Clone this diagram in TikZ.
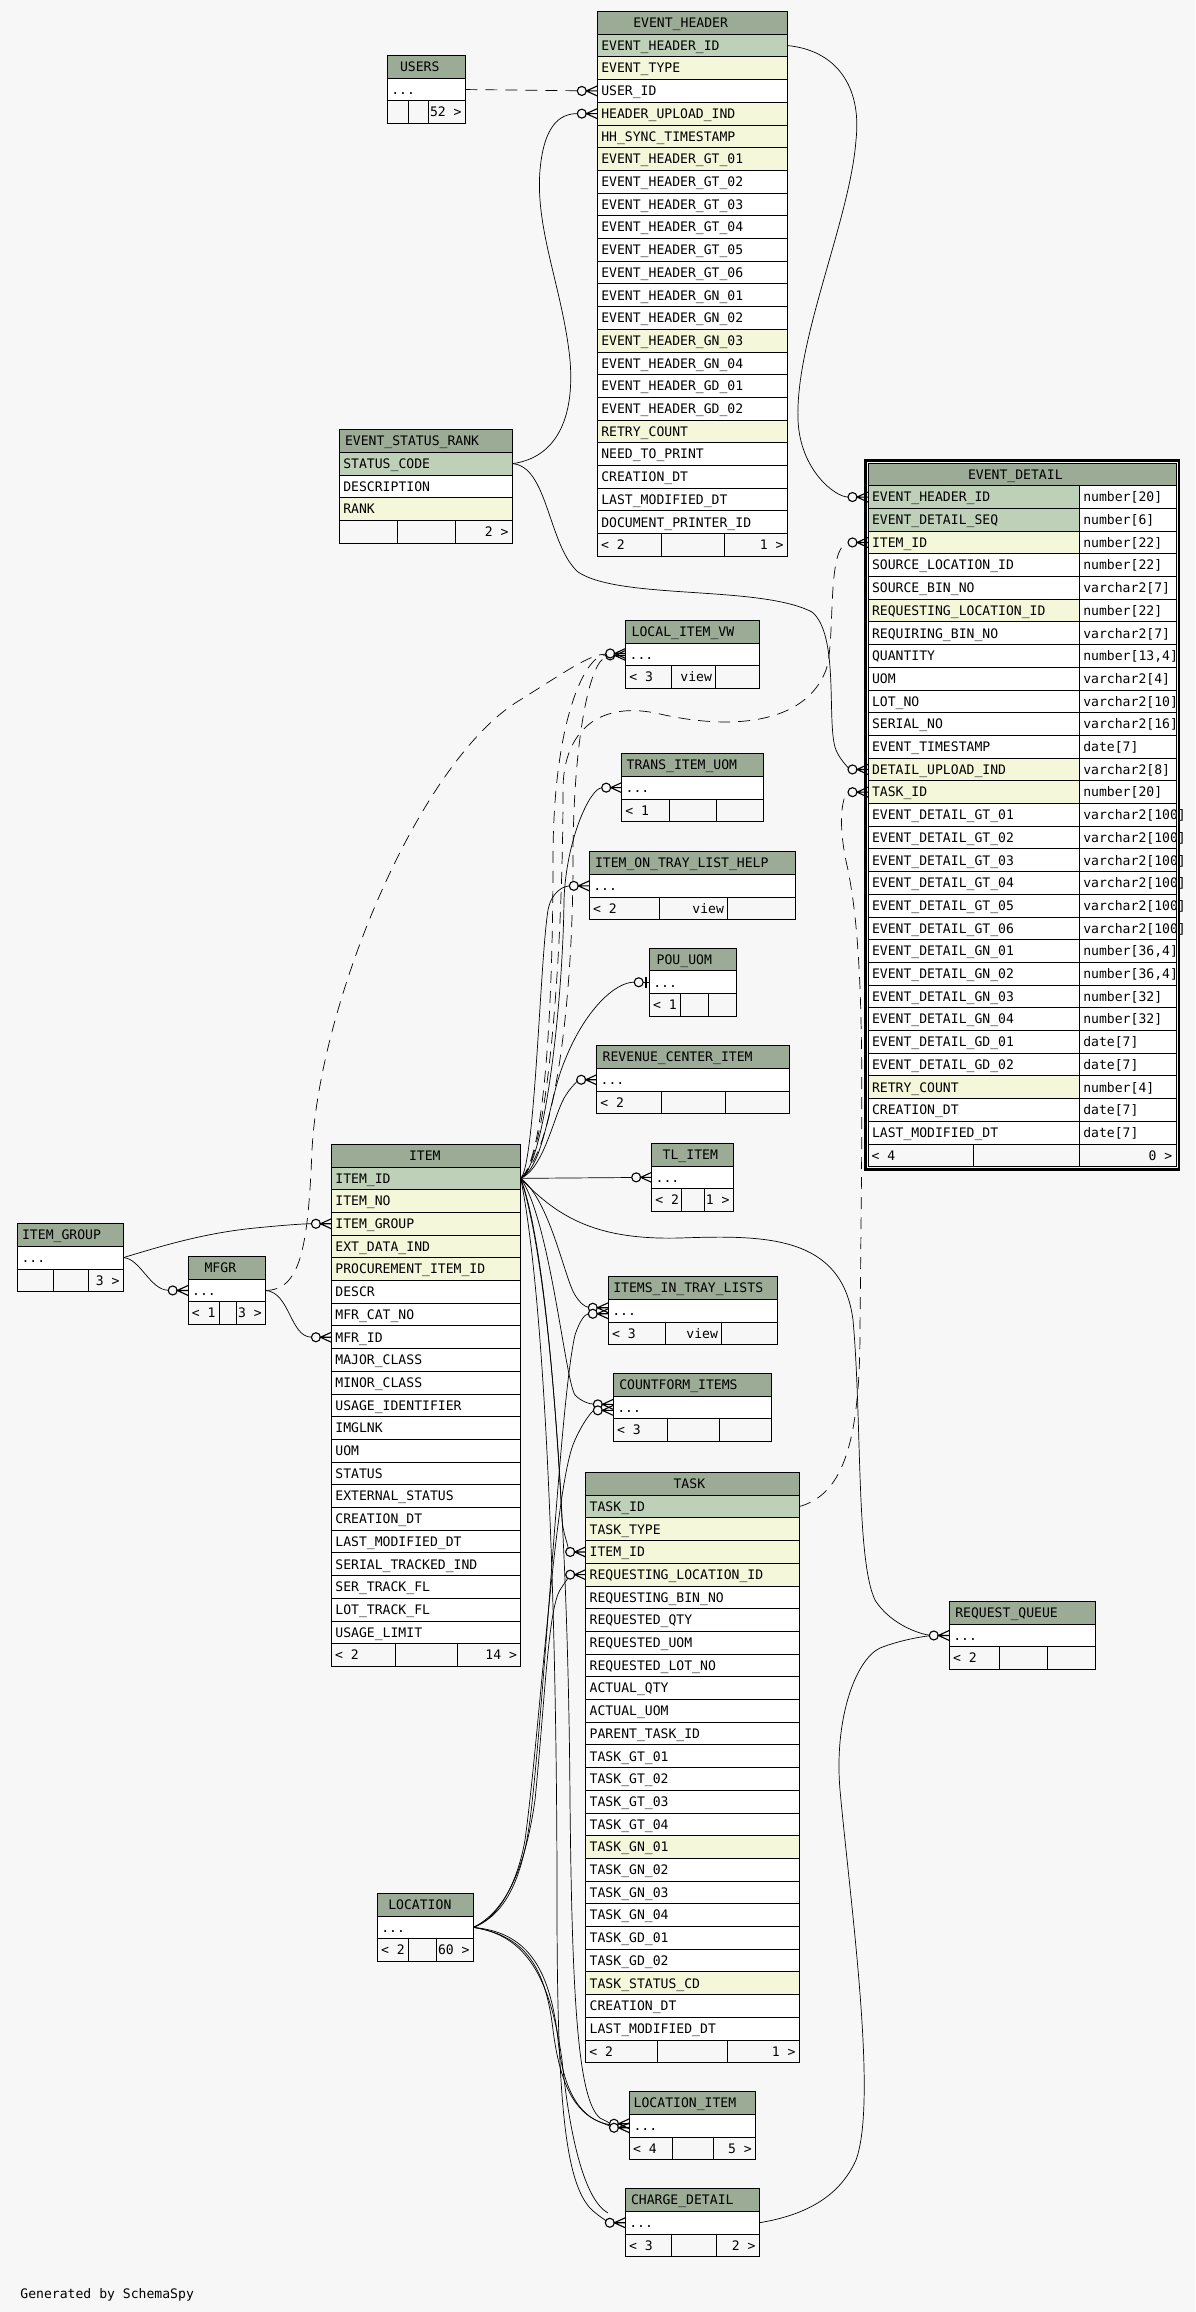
\documentclass[tikz,border=0pt]{standalone}
\usepackage{fontspec}
\usetikzlibrary{positioning, calc}
\newfontfamily\schemafont{DejaVu Sans Mono}
\newcommand{\erfont}{\schemafont\fontsize{13.1pt}{15pt}\selectfont}
\newcommand{\ellip}{...}

\definecolor{pagebg}{HTML}{F7F7F7}
\definecolor{hdrbg}{HTML}{9BAB96}
\definecolor{pk}{HTML}{BED1B8}
\definecolor{ix}{HTML}{F4F7DA}
\definecolor{pl}{HTML}{FFFFFF}

\pgfdeclarelayer{paper}
\pgfdeclarelayer{wires}
\pgfsetlayers{paper,wires,main}

\tikzset{%
	cell/.style = { draw, line width=0.9pt, inner ysep=0pt, outer sep=0pt, minimum height=22.7pt, font=\erfont, text height=9.5pt, text depth=0pt },
	hdr/.style = { cell, fill=hdrbg, inner xsep=0pt, align=left },
	fld/.style = { cell, fill=#1, inner xsep=4pt, align=left },
	ftr/.style = { cell, fill=pagebg, inner xsep=0pt },
	ftrl/.style = { anchor=west, font=\erfont, inner xsep=3.5pt, inner ysep=0pt, text height=9.5pt, text depth=0pt },
	ftrr/.style = { ftrl, anchor=east },
	fk/.style = { line width=0.7pt, shorten >=20pt },
	implied/.style = { fk, dashed, dash pattern=on 12pt off 8pt },
	crow/.style = { line width=1.1pt }
}

% table head: name, x, y, width, title indent, title
\newcommand{\ertable}[6]{%
	\node[hdr, text width=#4pt, minimum width=#4pt, anchor=north west] (#1-0) at (#2,#3) {\hspace*{#5pt}#6};
}
% column rows: name, width, list text/colour
\newcommand{\errows}[3]{%
	\pgfmathsetmacro\rowtw{#2-8}
	\foreach \txt/\clr [count=\i] in {#3} {
		\pgfmathtruncatemacro\prev{\i-1}
		\node[fld=\clr, text width=\rowtw pt, below=0pt of #1-\prev] (#1-\i) {\txt};
	}
}
% footer: name, last row, three widths, three texts
\newcommand{\erfoot}[8]{%
	\node[ftr, minimum width=#3pt, anchor=north west] (#1-fa) at (#2.south west) {};
	\node[ftr, minimum width=#4pt, anchor=north west] (#1-fb) at (#1-fa.north east) {};
	\node[ftr, minimum width=#5pt, anchor=north west] (#1-fc) at (#1-fb.north east) {};
	\node[ftrl] (#1-ta) at (#1-fa.west) {#6};
	\node[ftrr] (#1-tb) at (#1-fb.east) {#7};
	\node[ftrr] (#1-tc) at (#1-fc.east) {#8};
}
% zero-or-many end
\newcommand{\crowfoot}[2][0]{%
	\draw[crow, fill=pagebg] ($(#2)+(-15.5,#1)$) circle (4.5pt);
	\draw[crow] ($(#2)+(0,#1-5)$) -- ($(#2)+(-11,#1)$) -- ($(#2)+(0,#1+5)$)
		($(#2)+(-11,#1)$) -- ($(#2)+(0,#1)$);
}
% zero-or-one end
\newcommand{\oneend}[1]{%
	\draw[crow, fill=pagebg] ($(#1)+(-10.6,0)$) circle (4.5pt);
	\draw[crow] ($(#1)+(-6,0)$) -- (#1);
	\draw[line width=2pt] ($(#1)+(-3,-5.5)$) -- ($(#1)+(-3,5.5)$);
}

\begin{document}
\begin{tikzpicture}[x=1pt, y=-1pt]
	\useasboundingbox (0,0) rectangle (1195,2312);
	\begin{pgfonlayer}{paper}
		\fill[pagebg] (0,0) rectangle (1195,2312);
	\end{pgfonlayer}

	% USERS
	\ertable{users}{387.3}{55.5}{78}{12.7}{USERS}
	\errows{users}{78}{\ellip/pl}
	\erfoot{users}{users-1}{21.4}{20}{36.6}{}{}{52 >}

	% EVENT_HEADER
	\ertable{eh}{597.3}{11.5}{190}{36}{EVENT\_HEADER}
	\errows{eh}{190}{EVENT\_HEADER\_ID/pk, EVENT\_TYPE/ix, USER\_ID/pl, HEADER\_UPLOAD\_IND/ix,
		HH\_SYNC\_TIMESTAMP/ix, EVENT\_HEADER\_GT\_01/ix, EVENT\_HEADER\_GT\_02/pl, EVENT\_HEADER\_GT\_03/pl,
		EVENT\_HEADER\_GT\_04/pl, EVENT\_HEADER\_GT\_05/pl, EVENT\_HEADER\_GT\_06/pl, EVENT\_HEADER\_GN\_01/pl,
		EVENT\_HEADER\_GN\_02/pl, EVENT\_HEADER\_GN\_03/ix, EVENT\_HEADER\_GN\_04/pl, EVENT\_HEADER\_GD\_01/pl,
		EVENT\_HEADER\_GD\_02/pl, RETRY\_COUNT/ix, NEED\_TO\_PRINT/pl, CREATION\_DT/pl,
		LAST\_MODIFIED\_DT/pl, DOCUMENT\_PRINTER\_ID/pl}
	\erfoot{eh}{eh-22}{64.4}{62.6}{63}{< 2}{}{1 >}

	% EVENT_STATUS_RANK
	\ertable{esr}{339.3}{429.6}{173}{5.7}{EVENT\_STATUS\_RANK}
	\errows{esr}{173}{STATUS\_CODE/pk, DESCRIPTION/pl, RANK/ix}
	\erfoot{esr}{esr-3}{58}{58}{57}{}{}{2 >}

	% EVENT_DETAIL (two columns, bold frame)
	\node[hdr, text width=308pt, minimum width=308pt, anchor=north west] (ed-0) at (868,463) {\hspace*{100pt}EVENT\_DETAIL};
	\foreach \txt/\clr/\typ [count=\i] in {EVENT\_HEADER\_ID/pk/number[20], EVENT\_DETAIL\_SEQ/pk/number[6],
		ITEM\_ID/ix/number[22], SOURCE\_LOCATION\_ID/pl/number[22], SOURCE\_BIN\_NO/pl/varchar2[7],
		REQUESTING\_LOCATION\_ID/ix/number[22], REQUIRING\_BIN\_NO/pl/varchar2[7], QUANTITY/pl/{number[13,4]},
		UOM/pl/varchar2[4], LOT\_NO/pl/varchar2[10], SERIAL\_NO/pl/varchar2[16], EVENT\_TIMESTAMP/pl/date[7],
		DETAIL\_UPLOAD\_IND/ix/varchar2[8], TASK\_ID/ix/number[20],
		EVENT\_DETAIL\_GT\_01/pl/varchar2[100], EVENT\_DETAIL\_GT\_02/pl/varchar2[100], EVENT\_DETAIL\_GT\_03/pl/varchar2[100],
		EVENT\_DETAIL\_GT\_04/pl/varchar2[100], EVENT\_DETAIL\_GT\_05/pl/varchar2[100], EVENT\_DETAIL\_GT\_06/pl/varchar2[100],
		EVENT\_DETAIL\_GN\_01/pl/{number[36,4]}, EVENT\_DETAIL\_GN\_02/pl/{number[36,4]}, EVENT\_DETAIL\_GN\_03/pl/number[32],
		EVENT\_DETAIL\_GN\_04/pl/number[32], EVENT\_DETAIL\_GD\_01/pl/date[7], EVENT\_DETAIL\_GD\_02/pl/date[7],
		RETRY\_COUNT/ix/number[4], CREATION\_DT/pl/date[7], LAST\_MODIFIED\_DT/pl/date[7]} {
		\pgfmathtruncatemacro\prev{\i-1}
		\node[fld=\clr, text width=203.3pt, anchor=north west] (ed-\i) at (ed-\prev.south west) {\txt};
		\node[fld=pl, text width=88.7pt, anchor=north west] (ed-\i-t) at (ed-\i.north east) {\typ};
	}
	\erfoot{ed}{ed-29}{105.3}{106}{96.7}{< 4}{}{0 >}
	\draw[line width=2.4pt] ([xshift=-2.7pt,yshift=2.7pt]ed-0.north west) rectangle ([xshift=2.7pt,yshift=-2.7pt]ed-fc.south east);

	% ITEM
	\ertable{item}{331.4}{1144.3}{189.3}{77.6}{ITEM}
	\errows{item}{189.3}{ITEM\_ID/pk, ITEM\_NO/ix, ITEM\_GROUP/ix, EXT\_DATA\_IND/ix, PROCUREMENT\_ITEM\_ID/ix,
		DESCR/pl, MFR\_CAT\_NO/pl, MFR\_ID/pl, MAJOR\_CLASS/pl, MINOR\_CLASS/pl, USAGE\_IDENTIFIER/pl,
		IMGLNK/pl, UOM/pl, STATUS/pl, EXTERNAL\_STATUS/pl, CREATION\_DT/pl, LAST\_MODIFIED\_DT/pl,
		SERIAL\_TRACKED\_IND/pl, SER\_TRACK\_FL/pl, LOT\_TRACK\_FL/pl, USAGE\_LIMIT/pl}
	\erfoot{item}{item-21}{64}{62.1}{63.2}{< 2}{}{14 >}

	% TASK
	\ertable{task}{585.7}{1472.5}{213.6}{87.9}{TASK}
	\errows{task}{213.6}{TASK\_ID/pk, TASK\_TYPE/ix, ITEM\_ID/ix, REQUESTING\_LOCATION\_ID/ix, REQUESTING\_BIN\_NO/pl,
		REQUESTED\_QTY/pl, REQUESTED\_UOM/pl, REQUESTED\_LOT\_NO/pl, ACTUAL\_QTY/pl, ACTUAL\_UOM/pl,
		PARENT\_TASK\_ID/pl, TASK\_GT\_01/pl, TASK\_GT\_02/pl, TASK\_GT\_03/pl, TASK\_GT\_04/pl,
		TASK\_GN\_01/ix, TASK\_GN\_02/pl, TASK\_GN\_03/pl, TASK\_GN\_04/pl, TASK\_GD\_01/pl, TASK\_GD\_02/pl,
		TASK\_STATUS\_CD/ix, CREATION\_DT/pl, LAST\_MODIFIED\_DT/pl}
	\erfoot{task}{task-24}{71.4}{70.8}{71.4}{< 2}{}{1 >}

	% collapsed tables
	\ertable{liv}{625.7}{620.4}{133.6}{6}{LOCAL\_ITEM\_VW}
	\errows{liv}{133.6}{\ellip/pl}
	\erfoot{liv}{liv-1}{46}{44}{43.6}{< 3}{view}{}

	\ertable{tiu}{621.7}{753.6}{141.6}{5}{TRANS\_ITEM\_UOM}
	\errows{tiu}{141.6}{\ellip/pl}
	\erfoot{tiu}{tiu-1}{47.6}{47.4}{46.6}{< 1}{}{}

	\ertable{iotlh}{589.3}{851.8}{206.4}{5.7}{ITEM\_ON\_TRAY\_LIST\_HELP}
	\errows{iotlh}{206.4}{\ellip/pl}
	\erfoot{iotlh}{iotlh-1}{70}{68.4}{68}{< 2}{view}{}

	\ertable{pou}{649.3}{948.2}{87.4}{7.4}{POU\_UOM}
	\errows{pou}{87.4}{\ellip/pl}
	\erfoot{pou}{pou-1}{31.4}{28}{28}{< 1}{}{}

	\ertable{rci}{596.7}{1045.7}{192.6}{6}{REVENUE\_CENTER\_ITEM}
	\errows{rci}{192.6}{\ellip/pl}
	\erfoot{rci}{rci-1}{65}{64}{63.6}{< 2}{}{}

	\ertable{tl}{651.7}{1143.3}{81.6}{11}{TL\_ITEM}
	\errows{tl}{81.6}{\ellip/pl}
	\erfoot{tl}{tl-1}{30}{23}{28.6}{< 2}{}{1 >}

	\ertable{ig}{17.5}{1223.6}{105.7}{4.6}{ITEM\_GROUP}
	\errows{ig}{105.7}{\ellip/pl}
	\erfoot{ig}{ig-1}{35.7}{35}{35}{}{}{3 >}

	\ertable{mfgr}{188.2}{1256.4}{77.2}{16.4}{MFGR}
	\errows{mfgr}{77.2}{\ellip/pl}
	\erfoot{mfgr}{mfgr-1}{31.4}{16.8}{29}{< 1}{}{3 >}

	\ertable{iitl}{608.3}{1276.7}{169}{5}{ITEMS\_IN\_TRAY\_LISTS}
	\errows{iitl}{169}{\ellip/pl}
	\erfoot{iitl}{iitl-1}{57.4}{56}{55.6}{< 3}{view}{}

	\ertable{cfi}{613.3}{1373.3}{158.4}{6}{COUNTFORM\_ITEMS}
	\errows{cfi}{158.4}{\ellip/pl}
	\erfoot{cfi}{cfi-1}{54}{52}{52.4}{< 3}{}{}

	\ertable{rq}{949.3}{1601.4}{146.4}{6}{REQUEST\_QUEUE}
	\errows{rq}{146.4}{\ellip/pl}
	\erfoot{rq}{rq-1}{50}{48.2}{48.2}{< 2}{}{}

	\ertable{location}{377.3}{1893.3}{96}{11}{LOCATION}
	\errows{location}{96}{\ellip/pl}
	\erfoot{location}{location-1}{31}{28.4}{36.6}{< 2}{}{60 >}

	\ertable{li}{629.5}{2091.7}{125.9}{4.2}{LOCATION\_ITEM}
	\errows{li}{125.9}{\ellip/pl}
	\erfoot{li}{li-1}{42.9}{41.3}{41.7}{< 4}{}{5 >}

	\ertable{cd}{625.3}{2188.7}{133.9}{5.7}{CHARGE\_DETAIL}
	\errows{cd}{133.9}{\ellip/pl}
	\erfoot{cd}{cd-1}{45.9}{44.8}{43.2}{< 3}{}{2 >}

	\node[ftrl, anchor=base west] (credit) at (16.7,2298.3) {Generated by SchemaSpy};

	% relationships
	\begin{pgfonlayer}{wires}
		\draw[implied] (users-1.east) -- (eh-3.west);
		\draw[fk] (esr-1.east) .. controls (555,458) and (575,420) .. (570,360) .. controls (563,290) and (535,230) .. (540,170) .. controls (544,125) and (560,113.6) .. (eh-4.west);
		\draw[fk] (esr-1.east) .. controls (548,466) and (548,545) .. (578,572) .. controls (620,600) and (760,585) .. (812,612) .. controls (840,635) and (826,725) .. (836,750) .. controls (842,764) and (852,769.5) .. (ed-13.west);
		\draw[fk] (eh-1.east) .. controls (835,50) and (862,85) .. (856,140) .. controls (850,220) and (795,340) .. (798,420) .. controls (800,470) and (835,497) .. (ed-1.west);
		\draw[implied] (item-1.east) .. controls (548,1160) and (563,950) .. (563,790) .. controls (563,730) and (600,700) .. (660,714) .. controls (730,730) and (805,725) .. (826,670) .. controls (836,640) and (826,545) .. (ed-3.west);
		\draw[implied] (task-1.east) .. controls (840,1495) and (860,1450) .. (860,1330) .. controls (862,1100) and (866,960) .. (848,870) .. controls (835,815) and (845,792) .. (ed-14.west);
		\draw[implied] (mfgr-1.east) .. controls (300,1290) and (308,1250) .. (312,1150) .. controls (320,1000) and (420,760) .. (520,700) .. controls (565,672) and (590,654) .. (liv-1.west);
		\draw[implied] (item-1.east) .. controls (545,1160) and (553,1000) .. (553,860) .. controls (553,720) and (585,655) .. (liv-1.west);
		\draw[implied] (item-1.east) .. controls (555,1150) and (573,1000) .. (573,860) .. controls (573,740) and (590,660) .. (liv-1.west);
		\draw[fk] (item-1.east) .. controls (545,1165) and (563,1000) .. (564,900) .. controls (566,840) and (590,788) .. (tiu-1.west);
		\draw[fk] (item-1.east) .. controls (535,1165) and (540,960) .. (548,910) .. controls (552,890) and (565,886) .. (iotlh-1.west);
		\draw[fk, shorten >=15pt] (item-1.east) .. controls (545,1165) and (548,1100) .. (565,1060) .. controls (585,1010) and (615,982) .. (pou-1.west);
		\draw[fk] (item-1.east) .. controls (545,1168) and (555,1110) .. (566,1095) .. controls (572,1085) and (580,1080) .. (rci-1.west);
		\draw[fk] (item-1.east) -- (tl-1.west);
		\draw[fk] (item-1.east) .. controls (550,1200) and (565,1280) .. (575,1295) .. controls (580,1303) and (585,1307) .. ($(iitl-1.west)+(0,-3)$);
		\draw[fk] (location-1.east) .. controls (505,1915) and (522,1880) .. (530,1820) .. controls (545,1700) and (560,1400) .. (575,1335) .. controls (580,1320) and (585,1314) .. ($(iitl-1.west)+(0,3)$);
		\draw[fk] (item-1.east) .. controls (550,1220) and (565,1380) .. (575,1395) .. controls (582,1402) and (590,1404) .. ($(cfi-1.west)+(0,-3)$);
		\draw[fk] (location-1.east) .. controls (500,1918) and (518,1880) .. (525,1840) .. controls (540,1730) and (555,1480) .. (575,1440) .. controls (583,1422) and (592,1411) .. ($(cfi-1.west)+(0,3)$);
		\draw[fk] (item-1.east) .. controls (548,1250) and (560,1480) .. (562,1520) .. controls (564,1540) and (572,1551) .. (task-3.west);
		\draw[fk] (location-1.east) .. controls (505,1912) and (525,1870) .. (535,1800) .. controls (545,1700) and (548,1610) .. (560,1590) .. controls (566,1580) and (572,1575) .. (task-4.west);
		\draw[fk] (item-1.east) .. controls (560,1220) and (600,1240) .. (680,1238) .. controls (765,1235) and (842,1235) .. (853,1320) .. controls (862,1420) and (856,1560) .. (875,1600) .. controls (892,1627) and (925,1635) .. (rq-1.west);
		\draw[fk] (cd-1.east) .. controls (800,2216) and (838,2200) .. (856,2160) .. controls (878,2100) and (850,1900) .. (840,1790) .. controls (834,1720) and (855,1660) .. (880,1648) .. controls (900,1640) and (925,1636) .. (rq-1.west);
		\draw[fk] (ig-1.east) .. controls (165,1245) and (205,1233) .. (255,1228) .. controls (285,1225) and (305,1223.7) .. (item-3.west);
		\draw[fk] (ig-1.east) .. controls (140,1258) and (150,1290) .. (mfgr-1.west);
		\draw[fk] (mfgr-1.east) .. controls (290,1292) and (290,1337) .. (item-8.west);
		\draw[fk] (item-1.east) .. controls (548,1260) and (568,1500) .. (570,1800) .. controls (572,2000) and (578,2100) .. (600,2118) .. controls (608,2122) and (612,2124) .. ($(li-1.west)+(0,-2)$);
		\draw[fk] (location-1.east) .. controls (520,1935) and (545,1960) .. (553,2030) .. controls (560,2085) and (575,2112) .. (600,2122) .. controls (610,2126) and (615,2128) .. ($(li-1.west)+(0,2)$);
		\draw[fk] (location-1.east) .. controls (525,1932) and (550,1965) .. (558,2040) .. controls (563,2090) and (580,2120) .. ($(li-1.west)+(0,2)$);
		\draw[fk] (item-1.east) .. controls (545,1300) and (557,1600) .. (557,1900) .. controls (557,2100) and (565,2180) .. (590,2208) .. controls (600,2218) and (610,2222) .. (cd-1.west);
		\draw[fk] (location-1.east) .. controls (525,1935) and (550,1975) .. (562,2060) .. controls (570,2140) and (585,2200) .. (cd-1.west);
	\end{pgfonlayer}

	% line ends
	\crowfoot{eh-3.west}
	\crowfoot{eh-4.west}
	\crowfoot{ed-1.west}
	\crowfoot{ed-3.west}
	\crowfoot{ed-13.west}
	\crowfoot{ed-14.west}
	\crowfoot[1]{liv-1.west}
	\crowfoot[-1]{liv-1.west}
	\crowfoot{tiu-1.west}
	\crowfoot{iotlh-1.west}
	\oneend{pou-1.west}
	\crowfoot{rci-1.west}
	\crowfoot{tl-1.west}
	\crowfoot[-3]{iitl-1.west}
	\crowfoot[3]{iitl-1.west}
	\crowfoot[-3]{cfi-1.west}
	\crowfoot[3]{cfi-1.west}
	\crowfoot{task-3.west}
	\crowfoot{task-4.west}
	\crowfoot{rq-1.west}
	\crowfoot{item-3.west}
	\crowfoot{mfgr-1.west}
	\crowfoot{item-8.west}
	\crowfoot[-2]{li-1.west}
	\crowfoot[2]{li-1.west}
	\crowfoot{cd-1.west}
\end{tikzpicture}
\end{document}
